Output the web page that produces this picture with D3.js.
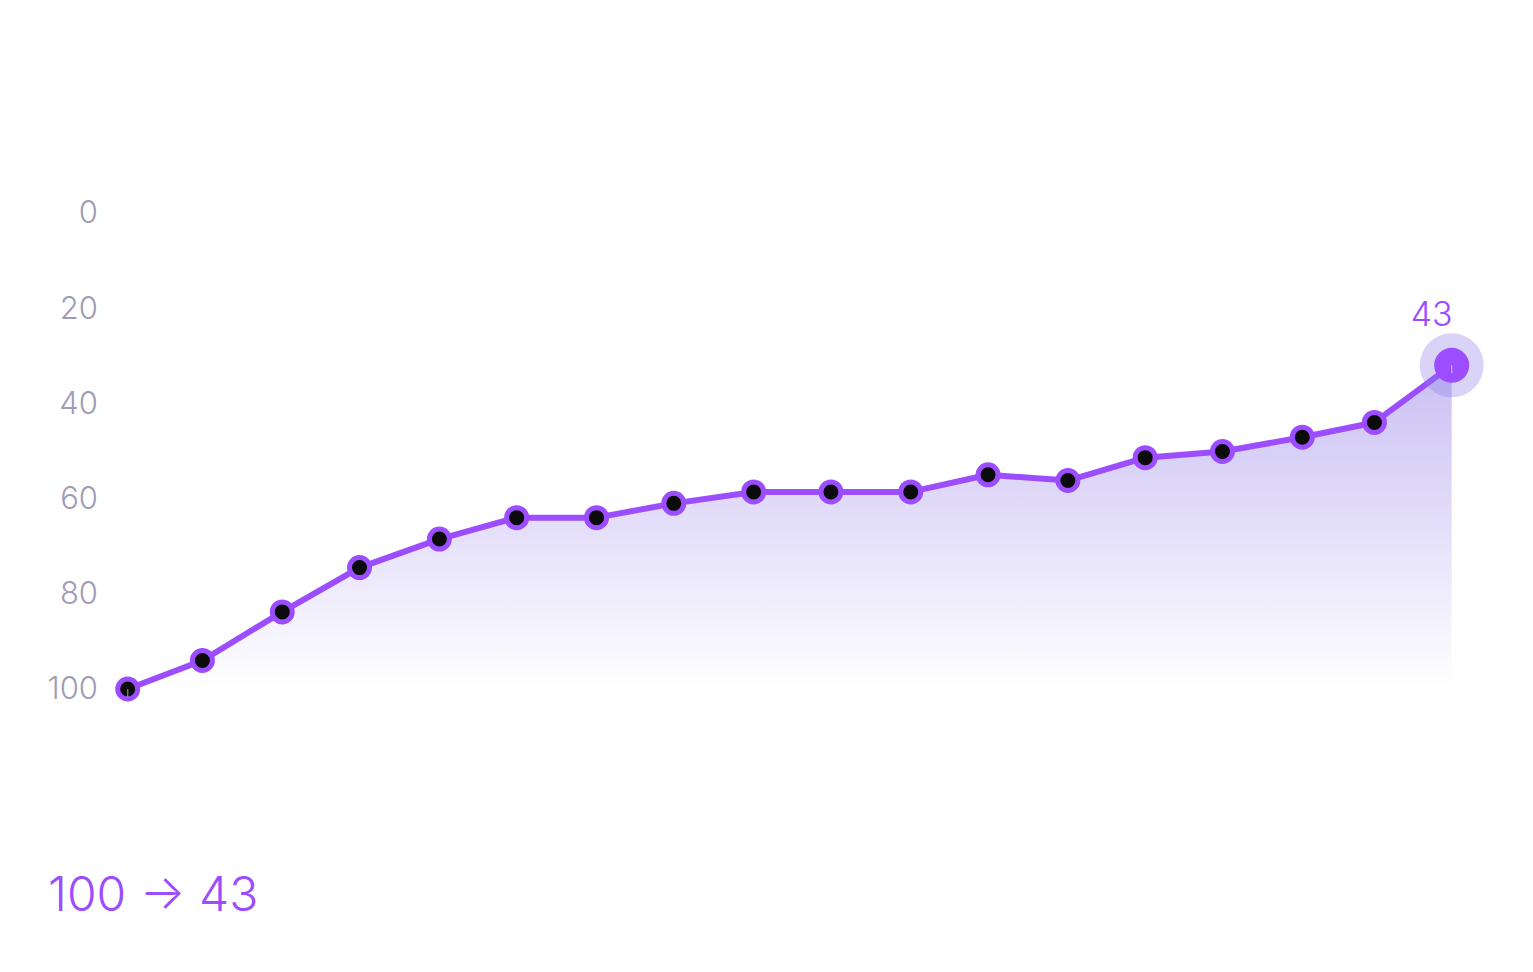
<!DOCTYPE html>
<html>
 <head>
  <meta charset="UTF-8">
  <title>Progress</title>
  <style>
    html, body { margin: 0; padding: 0; background: #ffffff; }
    svg text { font-family: Inter, Lato, "Noto Sans", sans-serif; font-weight: 300; }
  </style>
 </head>
 <body>
<div id="viz-wrapper">
</div>
 </body>
 <script src="https://cdn.jsdelivr.net/npm/d3@7"></script>
 <script type="text/javascript">
    // data
    var days = [0, 29, 60, 90, 121, 151, 182, 212, 243, 273, 304, 334, 365, 395, 425, 456, 484, 514];
    var values = [100, 94, 83.8, 74.5, 68.5, 64, 64, 61, 58.6, 58.6, 58.6, 55, 56.2, 51.4, 50.1, 47.1, 44, 32];
    var yTicks = [0, 20, 40, 60, 80, 100];
    var lastLabel = "43";
    var summary = "100 \u2192 43";

    var width = 1533,
        height = 972;

    var purple = "#9b4dff";

    var viz = d3.select("#viz-wrapper")
                .append("svg")
                .attr("id", "viz")
                .attr("width", width)
                .attr("height", height);

    var data = days.map(function(d, i) { return {day: d, value: values[i]}; });

    var x = d3.scaleLinear()
              .domain([0, d3.max(days)])
              .range([127.7, 1451.7]);

    var y = d3.scaleLinear()
              .domain([0, 100])
              .range([213, 689]);

    // gradient for the area under the line
    var grad = viz.append("defs")
                  .append("linearGradient")
                  .attr("id", "fade")
                  .attr("gradientUnits", "userSpaceOnUse")
                  .attr("x1", 0).attr("x2", 0)
                  .attr("y1", y(d3.min(values))).attr("y2", y(100));
    grad.append("stop").attr("offset", "0%").attr("stop-color", "#b8aaf0").attr("stop-opacity", 0.75);
    grad.append("stop").attr("offset", "100%").attr("stop-color", "#b8aaf0").attr("stop-opacity", 0);

    // y axis, labels only
    var yAxis = d3.axisLeft(y)
                  .tickValues(yTicks)
                  .tickSize(0)
                  .tickPadding(0);
    var axisG = viz.append("g")
                   .attr("transform", "translate(98,0)")
                   .call(yAxis);
    axisG.select(".domain").remove();
    axisG.selectAll("text")
         .attr("fill", "#a09cb6")
         .style("font-size", "31px")
         .style("font-family", "Inter, Lato, sans-serif")
         .style("font-weight", 300);

    var area = d3.area()
                 .x(function(d) { return x(d.day); })
                 .y0(y(100))
                 .y1(function(d) { return y(d.value); });

    viz.append("path")
       .datum(data)
       .attr("d", area)
       .attr("fill", "url(#fade)");

    var line = d3.line()
                 .x(function(d) { return x(d.day); })
                 .y(function(d) { return y(d.value); });

    viz.append("path")
       .datum(data)
       .attr("d", line)
       .attr("fill", "none")
       .attr("stroke", purple)
       .attr("stroke-width", 6)
       .attr("stroke-linejoin", "round");

    // regular dots
    viz.selectAll("circle.dot")
       .data(data.slice(0, data.length - 1))
       .enter()
       .append("circle")
       .attr("class", "dot")
       .attr("cx", function(d) { return x(d.day); })
       .attr("cy", function(d) { return y(d.value); })
       .attr("r", 10)
       .attr("fill", "#0b0b0b")
       .attr("stroke", purple)
       .attr("stroke-width", 5);

    // highlighted last point
    var last = data[data.length - 1];
    viz.append("circle")
       .attr("cx", x(last.day))
       .attr("cy", y(last.value))
       .attr("r", 32)
       .attr("fill", "#8d7be6")
       .attr("fill-opacity", 0.33);
    viz.append("circle")
       .attr("cx", x(last.day))
       .attr("cy", y(last.value))
       .attr("r", 17.5)
       .attr("fill", purple);

    // small ticks at first and last point
    [data[0], last].forEach(function(d) {
      viz.append("line")
         .attr("x1", x(d.day)).attr("x2", x(d.day))
         .attr("y1", y(d.value)).attr("y2", y(d.value) + 8)
         .attr("stroke", "#ffffff")
         .attr("stroke-opacity", 0.45)
         .attr("stroke-width", 1.5);
    });

    viz.append("text")
       .attr("x", x(last.day) - 20)
       .attr("y", 326)
       .attr("text-anchor", "middle")
       .attr("fill", purple)
       .style("font-size", "34px")
       .text(lastLabel);

    viz.append("text")
       .attr("x", 48)
       .attr("y", 911)
       .attr("fill", purple)
       .style("font-size", "48px")
       .text(summary);
 </script>
</html>
